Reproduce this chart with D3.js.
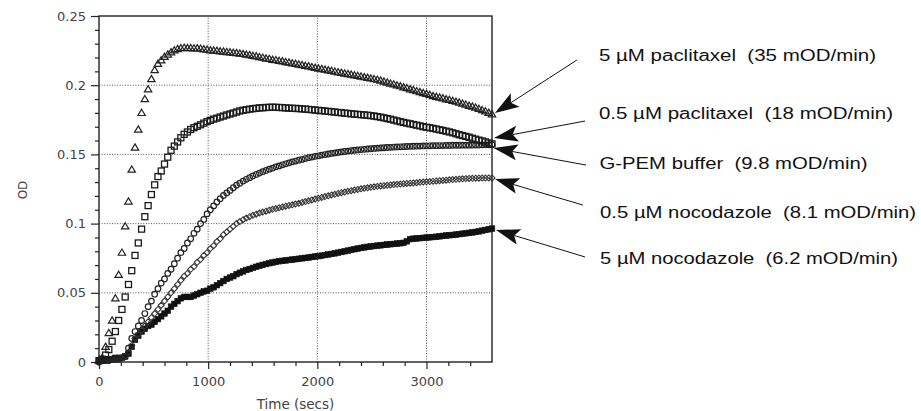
<!DOCTYPE html>
<html>
<head>
<meta charset="utf-8">
<script src="https://cdn.jsdelivr.net/npm/d3@7/dist/d3.min.js"></script>
<style>
html,body{margin:0;padding:0;background:#fff;}
svg{display:block;}
</style>
</head>
<body>
<svg id="chart" width="921" height="411"></svg>
<script>
// ---------------- DATA ----------------
const times = [
0,30,60,90,120,150,180,210,240,270,
300,330,360,390,420,450,480,510,540,570,
600,630,660,690,720,750,780,810,840,870,
900,930,960,990,1020,1050,1080,1110,1140,1170,
1200,1230,1260,1290,1320,1350,1380,1410,1440,1470,
1500,1530,1560,1590,1620,1650,1680,1710,1740,1770,
1800,1830,1860,1890,1920,1950,1980,2010,2040,2070,
2100,2130,2160,2190,2220,2250,2280,2310,2340,2370,
2400,2430,2460,2490,2520,2550,2580,2610,2640,2670,
2700,2730,2760,2790,2820,2850,2880,2910,2940,2970,
3000,3030,3060,3090,3120,3150,3180,3210,3240,3270,
3300,3330,3360,3390,3420,3450,3480,3510,3540,3570,
3600];

// 5 µM paclitaxel (open triangles)
const paclitaxel5 = [
0.001,0.003,0.011,0.021,0.030,0.046,0.063,0.079,0.098,0.116,
0.139,0.155,0.168,0.180,0.190,0.197,0.2045,0.211,0.2155,0.218,
0.2205,0.2222,0.2238,0.2252,0.2262,0.2268,0.2271,0.2269,0.2268,0.2266,
0.2267,0.2264,0.2260,0.2257,0.2253,0.2251,0.2249,0.2245,0.2244,0.2240,
0.2238,0.2235,0.2233,0.2229,0.2226,0.2221,0.2218,0.2212,0.2209,0.2203,
0.2199,0.2193,0.2190,0.2184,0.2181,0.2176,0.2173,0.2167,0.2164,0.2158,
0.2155,0.2150,0.2146,0.2140,0.2137,0.2131,0.2126,0.2121,0.2117,0.2113,
0.2108,0.2104,0.2098,0.2094,0.2090,0.2085,0.2081,0.2077,0.2071,0.2068,
0.2063,0.2058,0.2054,0.2049,0.2044,0.2040,0.2034,0.2026,0.2020,0.2012,
0.2006,0.1999,0.1993,0.1985,0.1979,0.1971,0.1965,0.1957,0.1951,0.1944,
0.1938,0.1930,0.1922,0.1917,0.1911,0.1906,0.1899,0.1894,0.1887,0.1881,
0.1874,0.1867,0.1860,0.1852,0.1846,0.1838,0.1829,0.1820,0.1811,0.1801,
0.1790];

// 0.5 µM paclitaxel (open squares)
const paclitaxel05 = [
0.001,0.002,0.005,0.009,0.015,0.022,0.030,0.038,0.047,0.056,
0.066,0.077,0.086,0.096,0.105,0.113,0.121,0.128,0.134,0.138,
0.143,0.148,0.153,0.156,0.159,0.162,0.1645,0.1662,0.1680,0.1693,
0.1703,0.1714,0.1726,0.1737,0.1746,0.1755,0.1762,0.1770,0.1777,0.1785,
0.1792,0.1799,0.1806,0.1814,0.1819,0.1823,0.1827,0.1830,0.1833,0.1836,
0.1837,0.1839,0.1840,0.1841,0.1840,0.1839,0.1838,0.1836,0.1834,0.1833,
0.1832,0.1831,0.1829,0.1827,0.1825,0.1823,0.1820,0.1818,0.1816,0.1813,
0.1811,0.1808,0.1806,0.1803,0.1801,0.1798,0.1796,0.1793,0.1791,0.1789,
0.1787,0.1785,0.1783,0.1780,0.1777,0.1773,0.1769,0.1764,0.1759,0.1754,
0.1748,0.1742,0.1736,0.1731,0.1726,0.1721,0.1716,0.1711,0.1706,0.1700,
0.1696,0.1692,0.1688,0.1683,0.1678,0.1673,0.1668,0.1662,0.1656,0.1649,
0.1642,0.1636,0.1630,0.1624,0.1617,0.1610,0.1603,0.1597,0.1590,0.1583,
0.1576];

// G-PEM buffer (open circles)
const gpemBuffer = [
0.000,0.001,0.001,0.001,0.002,0.002,0.002,0.003,0.004,0.010,
0.017,0.022,0.026,0.030,0.035,0.040,0.044,0.049,0.053,0.057,
0.060,0.064,0.067,0.071,0.075,0.079,0.082,0.086,0.089,0.093,
0.096,0.100,0.103,0.107,0.110,0.1128,0.1156,0.1180,0.1203,0.1222,
0.1240,0.1259,0.1277,0.1292,0.1307,0.1320,0.1332,0.1344,0.1355,0.1365,
0.1375,0.1384,0.1393,0.1401,0.1410,0.1417,0.1425,0.1432,0.1439,0.1446,
0.1452,0.1458,0.1464,0.1470,0.1476,0.1481,0.1486,0.1490,0.1495,0.1499,
0.1503,0.1507,0.1511,0.1514,0.1518,0.1521,0.1524,0.1527,0.1530,0.1532,
0.1535,0.1537,0.1539,0.1541,0.1543,0.1545,0.1547,0.1548,0.1550,0.1551,
0.1553,0.1554,0.1555,0.1556,0.1557,0.1558,0.1559,0.1560,0.1560,0.1561,
0.1562,0.1562,0.1563,0.1563,0.1564,0.1564,0.1565,0.1565,0.1566,0.1566,
0.1566,0.1567,0.1567,0.1567,0.1568,0.1568,0.1568,0.1569,0.1569,0.1569,
0.1570];

// 0.5 µM nocodazole (small open diamonds)
const nocodazole05 = [
0.000,0.001,0.001,0.001,0.002,0.002,0.002,0.003,0.004,0.007,
0.012,0.017,0.020,0.023,0.026,0.029,0.032,0.035,0.038,0.041,
0.044,0.047,0.050,0.053,0.056,0.059,0.062,0.064,0.067,0.069,
0.072,0.074,0.077,0.079,0.082,0.084,0.087,0.089,0.092,0.094,
0.096,0.098,0.100,0.1015,0.1028,0.1040,0.1050,0.1060,0.1068,0.1076,
0.1083,0.1090,0.1097,0.1103,0.1109,0.1115,0.1120,0.1126,0.1131,0.1136,
0.1141,0.1147,0.1153,0.1159,0.1165,0.1171,0.1177,0.1183,0.1189,0.1195,
0.1201,0.1207,0.1212,0.1218,0.1223,0.1228,0.1233,0.1238,0.1242,0.1247,
0.1251,0.1255,0.1259,0.1262,0.1266,0.1269,0.1272,0.1274,0.1277,0.1279,
0.1282,0.1284,0.1286,0.1288,0.1290,0.1292,0.1294,0.1296,0.1298,0.1300,
0.1302,0.1304,0.1306,0.1308,0.1310,0.1312,0.1314,0.1316,0.1318,0.1320,
0.1322,0.1324,0.1325,0.1326,0.1327,0.1328,0.1328,0.1329,0.1329,0.1330,
0.1330];

// 5 µM nocodazole (filled squares)
const nocodazole5 = [
0.001,0.001,0.002,0.002,0.002,0.003,0.003,0.003,0.004,0.006,
0.011,0.016,0.019,0.022,0.024,0.026,0.027,0.029,0.031,0.033,
0.035,0.037,0.040,0.042,0.044,0.046,0.047,0.047,0.047,0.048,
0.049,0.050,0.051,0.0515,0.053,0.054,0.0555,0.057,0.0585,0.060,
0.061,0.062,0.0635,0.0645,0.0655,0.0665,0.0672,0.068,0.0688,0.0695,
0.0702,0.0708,0.0714,0.0719,0.0724,0.0728,0.0731,0.0734,0.0737,0.0740,
0.0743,0.0746,0.0749,0.0752,0.0755,0.0759,0.0762,0.0765,0.0769,0.0773,
0.0777,0.0781,0.0785,0.0790,0.0795,0.0800,0.0805,0.0810,0.0815,0.0820,
0.0824,0.0828,0.0832,0.0835,0.0838,0.0841,0.0843,0.0846,0.0849,0.0851,
0.0853,0.0856,0.0858,0.0861,0.0872,0.0888,0.0891,0.0893,0.0895,0.0897,
0.0899,0.0901,0.0903,0.0905,0.0908,0.0911,0.0914,0.0916,0.0918,0.0921,
0.0924,0.0927,0.0930,0.0933,0.0936,0.0940,0.0944,0.0949,0.0954,0.0959,
0.0964];

// labels
const labels = [
  "5 µM paclitaxel  (35 mOD/min)",
  "0.5 µM paclitaxel  (18 mOD/min)",
  "G-PEM buffer  (9.8 mOD/min)",
  "0.5 µM nocodazole  (8.1 mOD/min)",
  "5 µM nocodazole  (6.2 mOD/min)"
];
// annotation anchors in data units (time, OD)
const labelTime = [4580, 4580, 4585, 4590, 4590];
const labelOD   = [0.2177, 0.1759, 0.1391, 0.1040, 0.0708];
const arrowStartTime = [4378, 4452, 4461, 4433, 4452];
const arrowStartOD   = [0.2182, 0.1741, 0.1423, 0.1134, 0.0759];
const arrowTipTime   = [3627, 3618, 3614, 3627, 3637];
const arrowTipOD     = [0.1799, 0.1618, 0.1546, 0.1322, 0.0954];

const xMajor = [0, 1000, 2000, 3000];
const xTickLabels = ["0", "1000", "2000", "3000"];
const xMinor = [200,400,600,800,1200,1400,1600,1800,2200,2400,2600,2800,3200,3400];
const yMajor = [0, 0.05, 0.1, 0.15, 0.2, 0.25];
const yTickLabels = ["0", "0.05", "0.1", "0.15", "0.2", "0.25"];
const yMinor = [0.01,0.02,0.03,0.04,0.06,0.07,0.08,0.09,0.11,0.12,0.13,0.14,0.16,0.17,0.18,0.19,0.21,0.22,0.23,0.24];
const xTitle = "Time (secs)";
const yTitle = "OD";

// ---------------- DRAW ----------------
const svg = d3.select("#chart");
const x = d3.scaleLinear().domain([0, 3600]).range([99, 492]);
const y = d3.scaleLinear().domain([0, 0.25]).range([362, 16]);
const ink = "#222";

// grid
const grid = svg.append("g");
grid.selectAll("line.gx").data(xMajor.slice(1)).enter().append("line")
  .attr("x1", d => x(d)).attr("x2", d => x(d))
  .attr("y1", y(0)).attr("y2", y(0.25))
  .attr("stroke", "#555").attr("stroke-width", 1).attr("stroke-dasharray", "1,1.6");
grid.selectAll("line.gy").data(yMajor.slice(1, -1)).enter().append("line")
  .attr("y1", d => y(d)).attr("y2", d => y(d))
  .attr("x1", x(0)).attr("x2", x(3600))
  .attr("stroke", "#555").attr("stroke-width", 1).attr("stroke-dasharray", "1,1.6");

// axes
const fontTick = "'DejaVu Sans', sans-serif";
const yAxis = d3.axisLeft(y).tickValues(yMajor).tickSize(8).tickSizeOuter(0).tickPadding(5)
  .tickFormat((d, i) => yTickLabels[i]);
const yAxisMinor = d3.axisLeft(y).tickValues(yMinor).tickSize(4).tickSizeOuter(0).tickFormat("");
const xAxis = d3.axisBottom(x).tickValues(xMajor).tickSize(7).tickSizeOuter(0).tickPadding(8)
  .tickFormat((d, i) => xTickLabels[i]);
const xAxisMinor = d3.axisBottom(x).tickValues(xMinor).tickSize(4).tickSizeOuter(0).tickFormat("");

function styleAxis(g) {
  g.select(".domain").remove();
  g.selectAll(".tick line").attr("stroke", ink).attr("stroke-width", 1.2);
  g.selectAll(".tick text").attr("fill", "#444").style("font-family", fontTick).style("font-size", "13px");
}
svg.append("g").attr("transform", `translate(${x(0)},0)`).call(yAxis).call(styleAxis);
svg.append("g").attr("transform", `translate(${x(0)},0)`).call(yAxisMinor).call(styleAxis);
svg.append("g").attr("transform", `translate(0,${y(0)})`).call(xAxis).call(styleAxis);
svg.append("g").attr("transform", `translate(0,${y(0)})`).call(xAxisMinor).call(styleAxis);

// frame
svg.append("rect").attr("x", x(0)).attr("y", y(0.25))
  .attr("width", x(3600) - x(0)).attr("height", y(0) - y(0.25))
  .attr("fill", "none").attr("stroke", ink).attr("stroke-width", 1.4);

// titles
svg.append("text").attr("x", (x(0) + x(3600)) / 2).attr("y", 409)
  .attr("text-anchor", "middle").attr("fill", "#444")
  .style("font-family", fontTick).style("font-size", "13.5px").text(xTitle);
svg.append("text").attr("transform", `translate(27,${y(0.125) + 1}) rotate(-90)`)
  .attr("text-anchor", "middle").attr("fill", "#444")
  .style("font-family", fontTick).style("font-size", "12px").text(yTitle);

// markers
const plot = svg.append("g");
function series(values, drawFn) {
  const g = plot.append("g");
  const pts = times.map((t, i) => [x(t), y(values[i])]);
  pts.forEach(p => drawFn(g, p[0], p[1]));
}
series(nocodazole5, (g, cx, cy) => g.append("rect").attr("x", cx - 2.8).attr("y", cy - 2.8)
  .attr("width", 5.6).attr("height", 5.6).attr("fill", "#111").attr("stroke", "#111").attr("stroke-width", 0.6));
series(nocodazole05, (g, cx, cy) => g.append("path")
  .attr("d", `M${cx},${cy - 3}L${cx + 3},${cy}L${cx},${cy + 3}L${cx - 3},${cy}Z`)
  .attr("fill", "none").attr("stroke", "#333").attr("stroke-width", 1.05));
series(gpemBuffer, (g, cx, cy) => g.append("circle").attr("cx", cx).attr("cy", cy).attr("r", 2.8)
  .attr("fill", "none").attr("stroke", "#222").attr("stroke-width", 1.2));
series(paclitaxel05, (g, cx, cy) => g.append("rect").attr("x", cx - 3).attr("y", cy - 3)
  .attr("width", 6).attr("height", 6).attr("fill", "none").attr("stroke", "#1a1a1a").attr("stroke-width", 1.3));
series(paclitaxel5, (g, cx, cy) => g.append("path")
  .attr("d", `M${cx},${cy - 3.6}L${cx + 3.7},${cy + 2.6}L${cx - 3.7},${cy + 2.6}Z`)
  .attr("fill", "none").attr("stroke", "#222").attr("stroke-width", 1.2));

// annotations
const ann = svg.append("g");
const labelWidths = [277, 294, 268, 316, 298];
labels.forEach((lab, i) => {
  ann.append("text").attr("x", x(labelTime[i])).attr("y", y(labelOD[i]))
    .attr("fill", "#111").style("font-family", "'Liberation Sans', Arial, sans-serif")
    .style("font-size", "16px").attr("textLength", labelWidths[i]).attr("lengthAdjust", "spacingAndGlyphs")
    .style("white-space", "pre")
    .text(lab);
  const sx = x(arrowStartTime[i]), sy = y(arrowStartOD[i]);
  const tx = x(arrowTipTime[i]), ty = y(arrowTipOD[i]);
  const dx = tx - sx, dy = ty - sy, len = Math.hypot(dx, dy);
  const ux = dx / len, uy = dy / len, nx = -uy, ny = ux;
  const L = 24, w = 8, notch = 5;
  const bx = tx - L * ux, by = ty - L * uy;
  ann.append("line").attr("x1", sx).attr("y1", sy).attr("x2", tx - (L - notch) * ux).attr("y2", ty - (L - notch) * uy)
    .attr("stroke", "#111").attr("stroke-width", 1);
  ann.append("path")
    .attr("d", `M${tx},${ty}L${bx + w * nx},${by + w * ny}L${tx - (L - notch) * ux},${ty - (L - notch) * uy}L${bx - w * nx},${by - w * ny}Z`)
    .attr("fill", "#111");
});
</script>
</body>
</html>
